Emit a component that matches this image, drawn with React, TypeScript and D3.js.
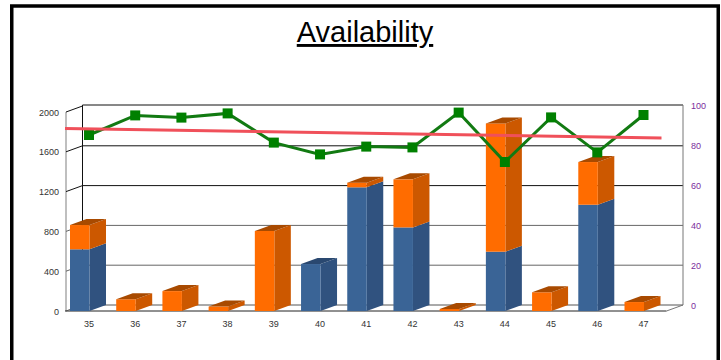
import React, { useEffect, useRef } from 'react';
import * as d3 from 'd3';

const weeks = ["35", "36", "37", "38", "39", "40", "41", "42", "43", "44", "45", "46", "47"];
const blueValues = [620, 0, 0, 0, 0, 472, 1243, 840, 0, 596, 0, 1068, 0];
const orangeValues = [244, 118, 200, 45, 804, 0, 47, 483, 20, 1289, 188, 429, 90];
const availability = [85, 94.8, 93.7, 95.8, 81.2, 75.3, 79.2, 78.8, 96.2, 71.5, 93.8, 76.3, 95];
const trendValues = [88.3, 83.5];
const leftTicks = [0, 400, 800, 1200, 1600, 2000];
const rightTicks = [0, 20, 40, 60, 80, 100];

const depthX = 16.5;
const depthY = -6;
const barWidth = 19.5;

const App: React.FC = () => {
  const chartRef = useRef<SVGSVGElement | null>(null);

  useEffect(() => {
    if (!chartRef.current) return;
    const svg = d3.select(chartRef.current);
    svg.selectAll("*").remove();

    const x = d3.scalePoint<string>().domain(weeks).range([89, 643.5]);
    const yLeft = d3.scaleLinear().domain([0, 2000]).range([311, 112]);
    const yRight = d3.scaleLinear().domain([0, 100]).range([305, 105]);

    // page frame, open at the bottom
    svg.append("path")
      .attr("d", "M11.75,360V6H718.25V360")
      .attr("fill", "none").attr("stroke", "#000").attr("stroke-width", 3.5);

    svg.append("text")
      .attr("x", 365).attr("y", 42)
      .attr("text-anchor", "middle")
      .attr("font-family", "Liberation Sans")
      .attr("font-size", 29)
      .attr("text-decoration", "underline")
      .attr("fill", "#000")
      .text("Availability");

    // back wall and gridlines
    const x0 = 66;
    const x1 = 666.5;
    const gridColor = (d: number) => (d >= 1200 ? "#111" : "#666");
    svg.append("g").selectAll("line")
      .data(leftTicks.filter(d => d > 0))
      .join("line")
      .attr("x1", x0 + depthX).attr("x2", x1 + depthX)
      .attr("y1", d => yLeft(d) + depthY - (d === 2000 ? 1 : 0))
      .attr("y2", d => yLeft(d) + depthY - (d === 2000 ? 1 : 0))
      .attr("stroke", gridColor).attr("stroke-width", 1);

    svg.append("line")
      .attr("x1", x0 + depthX).attr("x2", x0 + depthX)
      .attr("y1", 105).attr("y2", 305)
      .attr("stroke", "#111");
    svg.append("line")
      .attr("x1", x0 + depthX).attr("x2", x1 + depthX)
      .attr("y1", 305).attr("y2", 305)
      .attr("stroke", "#555");
    svg.append("line")
      .attr("x1", x1 + depthX).attr("x2", x1 + depthX)
      .attr("y1", 105).attr("y2", 305)
      .attr("stroke", "#777");

    // left wall
    svg.append("line")
      .attr("x1", x0).attr("x2", x0)
      .attr("y1", yLeft(2000)).attr("y2", yLeft(0))
      .attr("stroke", "#aaa").attr("stroke-width", 1.5);
    svg.append("g").selectAll("line")
      .data(leftTicks.filter(d => d > 0))
      .join("line")
      .attr("x1", x0).attr("x2", x0 + depthX)
      .attr("y1", d => yLeft(d)).attr("y2", d => yLeft(d) + depthY)
      .attr("stroke", gridColor);

    // floor edges
    svg.append("line")
      .attr("x1", x0 - 1).attr("x2", x1)
      .attr("y1", yLeft(0)).attr("y2", yLeft(0))
      .attr("stroke", "#222").attr("stroke-width", 1);
    svg.append("line")
      .attr("x1", x1).attr("x2", x1 + depthX)
      .attr("y1", yLeft(0)).attr("y2", yLeft(0) + depthY)
      .attr("stroke", "#777");
    svg.append("line")
      .attr("x1", x0).attr("x2", x0 + depthX)
      .attr("y1", yLeft(0)).attr("y2", yLeft(0) + depthY)
      .attr("stroke", "#555");

    // tick labels
    const labelFont = "Liberation Sans";
    svg.append("g").selectAll("text")
      .data(leftTicks)
      .join("text")
      .attr("x", 59).attr("y", d => yLeft(d) + 0.5)
      .attr("dy", "0.35em")
      .attr("text-anchor", "end")
      .attr("font-family", labelFont).attr("font-size", 9)
      .attr("fill", "#333")
      .text(d => d);

    svg.append("g").selectAll("text")
      .data(rightTicks)
      .join("text")
      .attr("x", 691).attr("y", d => yRight(d) + 0.5)
      .attr("dy", "0.35em")
      .attr("font-family", labelFont).attr("font-size", 9)
      .attr("fill", "#7a2d9c")
      .text(d => d);

    svg.append("g").selectAll("text")
      .data(weeks)
      .join("text")
      .attr("x", d => x(d) as number).attr("y", 327)
      .attr("text-anchor", "middle")
      .attr("font-family", labelFont).attr("font-size", 9)
      .attr("fill", "#333")
      .text(d => d);

    // 3D stacked bars
    const stack = d3.stack<number>()
      .keys(["blue", "orange"])
      .value((i, key) => (key === "blue" ? blueValues[i] : orangeValues[i]));
    const layers = stack(weeks.map((_, i) => i));
    const palette: Record<string, { front: string; side: string; top: string }> = {
      blue: { front: "#3a6496", side: "#30527f", top: "#2a4870" },
      orange: { front: "#ff6c00", side: "#cc5800", top: "#a84a00" },
    };

    const bars = svg.append("g");
    weeks.forEach((week, i) => {
      const right = x(week) as number + 0.5;
      const left = right - barWidth;
      layers.forEach(layer => {
        const [low, high] = layer[i];
        if (high <= low) return;
        const colors = palette[layer.key];
        const yLow = yLeft(low);
        const yHigh = yLeft(high);
        bars.append("polygon")
          .attr("points", `${right},${yLow} ${right + depthX},${yLow + depthY} ${right + depthX},${yHigh + depthY} ${right},${yHigh}`)
          .attr("fill", colors.side);
        bars.append("rect")
          .attr("x", left).attr("y", yHigh)
          .attr("width", barWidth).attr("height", yLow - yHigh)
          .attr("fill", colors.front);
        if (high === blueValues[i] + orangeValues[i]) {
          bars.append("polygon")
            .attr("points", `${left},${yHigh} ${left + depthX},${yHigh + depthY} ${right + depthX},${yHigh + depthY} ${right},${yHigh}`)
            .attr("fill", colors.top);
        }
      });
    });

    // availability line
    const line = d3.line<number>()
      .x((_, i) => x(weeks[i]) as number)
      .y(d => yRight(d));
    svg.append("path")
      .attr("d", line(availability))
      .attr("fill", "none")
      .attr("stroke", "#127a12")
      .attr("stroke-width", 3);
    svg.append("g").selectAll("rect")
      .data(availability)
      .join("rect")
      .attr("x", (_, i) => (x(weeks[i]) as number) - 5)
      .attr("y", d => yRight(d) - 5)
      .attr("width", 10).attr("height", 10)
      .attr("fill", "#008000");

    // trend line
    svg.append("line")
      .attr("x1", 65).attr("x2", 661.5)
      .attr("y1", yRight(trendValues[0])).attr("y2", yRight(trendValues[1]))
      .attr("stroke", "#f0505a")
      .attr("stroke-width", 3);
  }, []);

  return <svg ref={chartRef} width={721} height={360} style={{ position: "absolute", left: 0, top: 0 }}></svg>;
};

export default App;
